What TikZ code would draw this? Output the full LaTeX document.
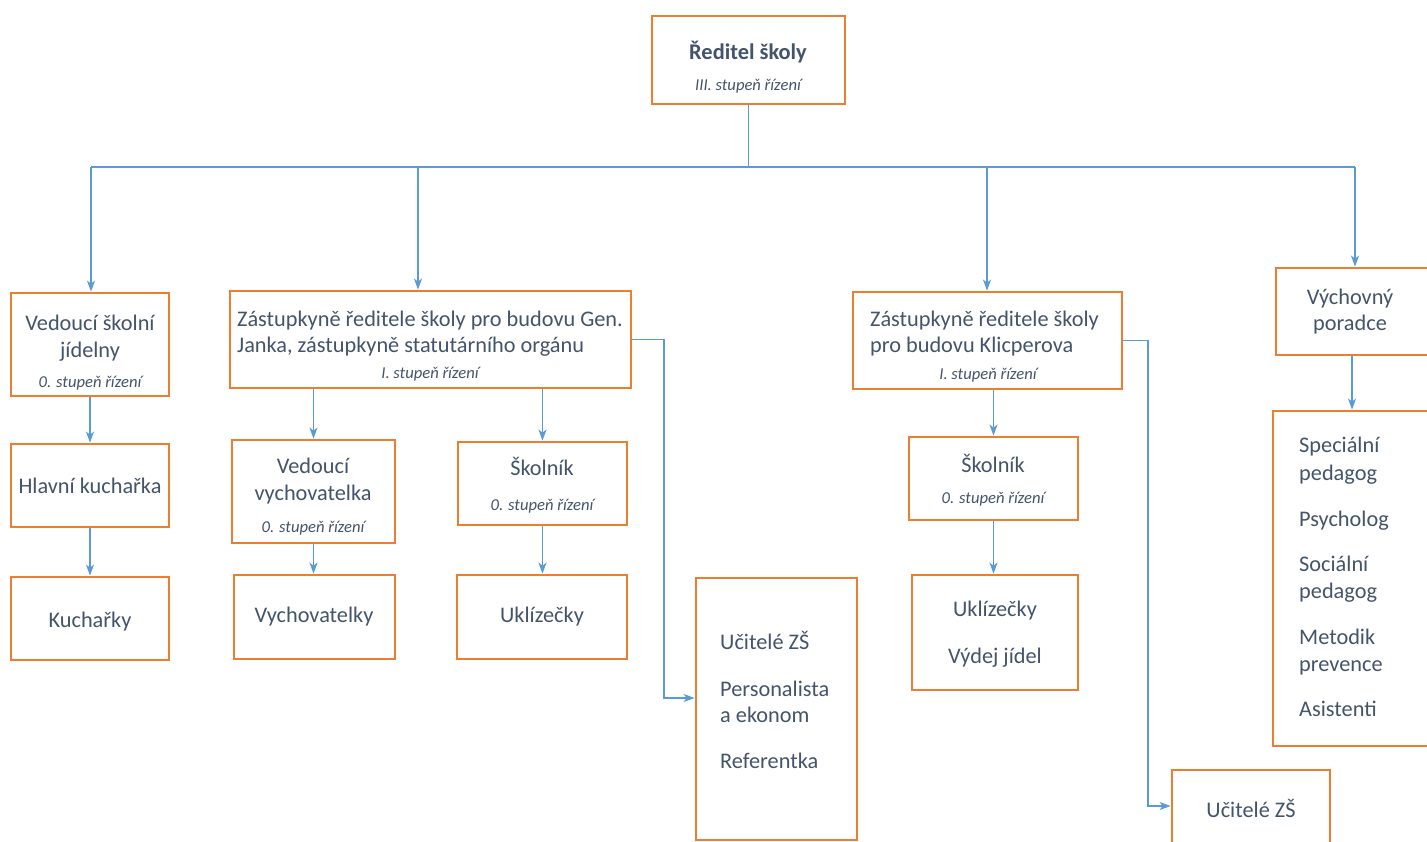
\documentclass[tikz,border=0pt]{standalone}
\usepackage{fontspec}
\setmainfont{Carlito}
\usetikzlibrary{arrows.meta}
\definecolor{orng}{HTML}{ED7D31}
\definecolor{blu}{HTML}{5B9BD5}
\definecolor{txt}{HTML}{44546A}
\tikzset{
  bx/.style={draw=orng, line width=2.8pt, fill=white, inner sep=0pt, rectangle},
  tx/.style={inner sep=0pt, text=txt, font=\fontsize{22.3}{26}\selectfont, anchor=mid},
  txl/.style={tx, anchor=mid west},
  it/.style={inner sep=0pt, text=txt, font=\fontsize{16.6}{19}\selectfont\itshape, anchor=mid},
  bd/.style={inner sep=0pt, text=txt, font=\fontsize{22.4}{26}\selectfont\bfseries, anchor=mid},
  ln/.style={draw=blu, line width=1.3pt},
  ar/.style={ln, -{Stealth[length=11pt,width=8pt,inset=3pt]}}
}
\newcommand{\bxx}[5]{\node[bx, minimum width={#4-#2}, minimum height={#5-#3}] (#1) at ({(#2+#4)/2},{(#3+#5)/2}) {};}
\begin{document}
\begin{tikzpicture}[x=1pt,y=-1pt]
\fill[white] (0,0) rectangle (1427,842);
\useasboundingbox (0,0) rectangle (1427,842);
\coordinate (bL) at (91,167);
\coordinate (bR) at (1355,167);
\coordinate (b2) at (418,167);
\coordinate (b3) at (987,167);
\coordinate (c1) at (664,698);
\coordinate (c2) at (1148,806);
\coordinate (vx) at (1352,0);
% boxes
\bxx{dir}{652}{16}{845}{104}
\bxx{jid}{11}{293}{169}{396}
\bxx{zj}{230}{291}{631}{388}
\bxx{zk}{853}{292}{1122}{389}
\bxx{vp}{1276}{268}{1440}{355}
\bxx{hk}{11}{444}{169}{527}
\bxx{ku}{11}{577}{169}{660}
\bxx{vv}{232}{440}{395}{543}
\bxx{vy}{234}{575}{395}{659}
\bxx{sk1}{458}{442}{627}{525}
\bxx{uk1}{457}{575}{627}{659}
\bxx{big}{696}{578}{857}{840}
\bxx{sk2}{909}{437}{1078}{520}
\bxx{uv}{912}{575}{1078}{690}
\bxx{uz}{1172}{770}{1330}{860}
\bxx{lst}{1273}{411}{1440}{746}
% connectors
\draw[ln] (dir.south) -- (dir.south |- bL);
\draw[ln] (bL) -- (bR);
\draw[ar] (bL) -- (bL |- jid.north);
\draw[ar] (b2) -- (b2 |- zj.north);
\draw[ar] (b3) -- (b3 |- zk.north);
\draw[ar] (bR) -- (bR |- vp.north);
\draw[ar] (jid.south) -- (jid.south |- hk.north);
\draw[ar] (hk.south) -- (hk.south |- ku.north);
\draw[ar] (vv.north |- zj.south) -- (vv.north);
\draw[ar] (vv.south) -- (vv.south |- vy.north);
\draw[ar] (sk1.north |- zj.south) -- (sk1.north);
\draw[ar] (sk1.south) -- (sk1.south |- uk1.north);
\draw[ar] (zj.east) -| (c1) -- (c1 -| big.west);
\draw[ar] (sk2.north |- zk.south) -- (sk2.north);
\draw[ar] (sk2.south) -- (sk2.south |- uv.north);
\draw[ar] (zk.east) -| (c2) -- (c2 -| uz.west);
\draw[ar] (vx |- vp.south) -- (vx |- lst.north);
% texts
\begin{scope}[shift={(0,5)}]
\node[bd] (t1) at (748,52) {Ředitel školy};
\node[it] (t2) at (748,83) {III. stupeň řízení};
\node[tx] (t3) at (90,323) {Vedoucí školní};
\node[tx] (t4) at (90,350) {jídelny};
\node[it] (t5) at (90,380) {0. stupeň řízení};
\node[txl] (t6) at (237,319) {Zástupkyně ředitele školy pro budovu Gen.};
\node[txl] (t7) at (237,345) {Janka, zástupkyně statutárního orgánu};
\node[it] (t8) at (430,371) {I. stupeň řízení};
\node[txl] (t9) at (870,319) {Zástupkyně ředitele školy};
\node[txl] (t10) at (870,345) {pro budovu Klicperova};
\node[it] (t11) at (988,372) {I. stupeň řízení};
\node[tx] (t12) at (1350,297) {Výchovný};
\node[tx] (t13) at (1350,323) {poradce};
\node[tx] (t14) at (90,486) {Hlavní kuchařka};
\node[tx] (t15) at (90,620) {Kuchařky};
\node[tx] (t16) at (313,466) {Vedoucí};
\node[tx] (t17) at (313,493) {vychovatelka};
\node[it] (t18) at (313,525) {0. stupeň řízení};
\node[tx] (t19) at (314,615) {Vychovatelky};
\node[tx] (t20) at (542,468) {Školník};
\node[it] (t21) at (542,503) {0. stupeň řízení};
\node[tx] (t22) at (542,615) {Uklízečky};
\node[txl] (t23) at (720,642) {Učitelé ZŠ};
\node[txl] (t24) at (720,689) {Personalista};
\node[txl] (t25) at (720,715) {a ekonom};
\node[txl] (t26) at (720,761) {Referentka};
\node[tx] (t27) at (993,465) {Školník};
\node[it] (t28) at (993,496) {0. stupeň řízení};
\node[tx] (t29) at (995,609) {Uklízečky};
\node[tx] (t30) at (995,656) {Výdej jídel};
\node[tx] (t31) at (1251,810) {Učitelé ZŠ};
\node[txl] (t32) at (1299,445) {Speciální};
\node[txl] (t33) at (1299,473) {pedagog};
\node[txl] (t34) at (1299,519) {Psycholog};
\node[txl] (t35) at (1299,564) {Sociální};
\node[txl] (t36) at (1299,591) {pedagog};
\node[txl] (t37) at (1299,637) {Metodik};
\node[txl] (t38) at (1299,664) {prevence};
\node[txl] (t39) at (1299,709) {Asistenti};
\end{scope}
\end{tikzpicture}
\end{document}
